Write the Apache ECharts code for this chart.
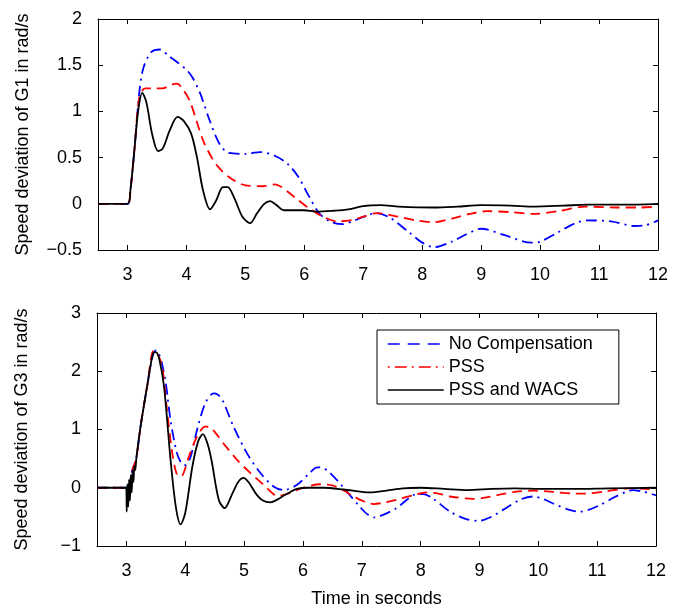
<!DOCTYPE html>
<html>
<head>
<meta charset="utf-8">
<script src="https://cdn.jsdelivr.net/npm/echarts@6/dist/echarts.min.js"></script>
<style>
  html, body { margin: 0; padding: 0; background: #fff; }
  #main { width: 682px; height: 609px; }
</style>
</head>
<body>
<div id="main"></div>
<script>
// time ticks shared by both plots
const timeTicks = [3, 4, 5, 6, 7, 8, 9, 10, 11, 12]
const seriesNames = ['No Compensation', 'PSS', 'PSS and WACS']

// G1 speed deviation, [time, rad/s]
const g1NoComp = [[2.5,0],[3.0,0],[3.05,0.15],[3.12,0.6],[3.2,1.2],[3.27,1.47],[3.4,1.64],[3.55,1.67],[3.7,1.6],[3.85,1.53],[4.0,1.45],[4.1,1.37],[4.23,1.2],[4.39,0.91],[4.56,0.65],[4.72,0.55],[5.0,0.54],[5.25,0.56],[5.5,0.52],[5.72,0.43],[5.9,0.29],[6.08,0.08],[6.25,-0.1],[6.43,-0.19],[6.65,-0.22],[6.85,-0.18],[7.05,-0.13],[7.22,-0.1],[7.45,-0.15],[7.78,-0.31],[8.0,-0.42],[8.2,-0.47],[8.5,-0.41],[8.75,-0.33],[9.0,-0.27],[9.4,-0.34],[9.85,-0.42],[10.0,-0.41],[10.3,-0.31],[10.6,-0.21],[10.8,-0.18],[11.2,-0.19],[11.6,-0.24],[11.8,-0.23],[12,-0.18]]
const g1Pss = [[2.5,0],[3.0,0],[3.05,0.15],[3.12,0.6],[3.2,1.15],[3.3,1.25],[3.45,1.25],[3.6,1.25],[3.75,1.29],[3.84,1.3],[3.94,1.24],[4.06,1.11],[4.17,0.9],[4.3,0.66],[4.5,0.43],[4.72,0.29],[5.0,0.2],[5.3,0.19],[5.5,0.21],[5.62,0.18],[5.72,0.13],[5.86,0.06],[6.08,-0.05],[6.32,-0.14],[6.55,-0.19],[6.78,-0.18],[7.0,-0.14],[7.22,-0.1],[7.6,-0.14],[7.9,-0.18],[8.2,-0.2],[8.5,-0.16],[8.8,-0.11],[9.1,-0.08],[9.5,-0.09],[9.9,-0.11],[10.3,-0.08],[10.77,-0.03],[11.3,-0.04],[11.7,-0.04],[12,-0.03]]
const g1Wacs = [[2.5,0],[3.0,0],[3.05,0.15],[3.12,0.6],[3.18,1.0],[3.25,1.2],[3.32,1.1],[3.42,0.75],[3.52,0.57],[3.6,0.6],[3.72,0.8],[3.85,0.94],[3.95,0.9],[4.08,0.76],[4.18,0.5],[4.28,0.15],[4.4,-0.06],[4.5,0.03],[4.62,0.18],[4.7,0.18],[4.82,0.05],[4.95,-0.14],[5.08,-0.21],[5.2,-0.1],[5.32,0.0],[5.42,0.03],[5.52,-0.01],[5.65,-0.07],[5.8,-0.07],[6.0,-0.07],[6.2,-0.085],[6.5,-0.075],[6.75,-0.06],[7.0,-0.025],[7.3,-0.015],[7.6,-0.03],[8.2,-0.04],[8.6,-0.03],[9.0,-0.015],[9.5,-0.02],[9.9,-0.03],[10.4,-0.02],[10.8,-0.01],[11.4,-0.01],[12,0]]

// G3 speed deviation, [time, rad/s]
const g3NoComp = [[2.5,0],[3.0,0],[3.1,0.3],[3.17,0.52],[3.24,1.05],[3.36,1.79],[3.45,2.28],[3.5,2.36],[3.55,2.3],[3.6,2.15],[3.67,1.79],[3.75,1.16],[3.86,0.59],[3.95,0.4],[4.0,0.39],[4.09,0.53],[4.2,0.99],[4.34,1.45],[4.48,1.62],[4.55,1.6],[4.63,1.51],[4.82,1.05],[5.05,0.59],[5.28,0.25],[5.5,0.02],[5.67,-0.04],[5.9,0.05],[6.12,0.26],[6.24,0.35],[6.3,0.35],[6.41,0.3],[6.58,0.13],[6.75,-0.07],[6.97,-0.33],[7.1,-0.46],[7.22,-0.51],[7.35,-0.47],[7.59,-0.35],[7.8,-0.18],[7.93,-0.11],[8.05,-0.11],[8.2,-0.18],[8.5,-0.41],[8.75,-0.53],[8.98,-0.57],[9.2,-0.5],[9.4,-0.38],[9.7,-0.2],[9.91,-0.15],[10.1,-0.2],[10.25,-0.27],[10.5,-0.37],[10.7,-0.41],[10.85,-0.38],[11.04,-0.3],[11.3,-0.16],[11.49,-0.07],[11.6,-0.04],[11.8,-0.07],[12,-0.13]]
const g3Pss = [[2.5,0],[3.0,0],[3.1,0.3],[3.17,0.52],[3.24,1.05],[3.36,1.79],[3.46,2.35],[3.53,2.3],[3.61,2.06],[3.69,1.33],[3.78,0.59],[3.86,0.22],[3.93,0.2],[4.06,0.53],[4.2,0.88],[4.34,1.05],[4.42,1.04],[4.5,0.96],[4.65,0.76],[4.88,0.48],[5.11,0.25],[5.33,0.05],[5.5,-0.11],[5.58,-0.14],[5.78,-0.09],[6.0,0.0],[6.29,0.06],[6.5,0.04],[6.7,-0.05],[6.86,-0.15],[7.05,-0.24],[7.2,-0.28],[7.4,-0.25],[7.65,-0.19],[7.9,-0.12],[8.1,-0.08],[8.3,-0.1],[8.5,-0.15],[8.89,-0.19],[9.1,-0.17],[9.34,-0.12],[9.6,-0.07],[9.91,-0.05],[10.25,-0.07],[10.6,-0.1],[10.8,-0.1],[11.15,-0.06],[11.55,-0.01],[11.8,-0.02],[12,-0.03]]
const g3Wacs = [[2.5,0],[2.99,0],[3.0,-0.05],[3.005,-0.41],[3.015,0.06],[3.03,-0.33],[3.045,0.14],[3.06,-0.22],[3.075,0.22],[3.09,-0.08],[3.105,0.3],[3.12,0.1],[3.135,0.38],[3.15,0.3],[3.17,0.52],[3.24,1.05],[3.36,1.79],[3.45,2.3],[3.5,2.33],[3.56,2.2],[3.64,1.73],[3.75,0.48],[3.84,-0.33],[3.92,-0.63],[4.0,-0.43],[4.12,0.36],[4.22,0.8],[4.3,0.92],[4.38,0.75],[4.45,0.45],[4.57,-0.21],[4.67,-0.35],[4.8,-0.1],[4.9,0.1],[4.99,0.17],[5.08,0.09],[5.2,-0.1],[5.32,-0.22],[5.45,-0.25],[5.57,-0.2],[5.7,-0.12],[5.9,-0.02],[6.1,0.0],[6.35,0.0],[6.69,-0.03],[7.0,-0.07],[7.14,-0.08],[7.42,-0.05],[7.7,-0.01],[8.0,0.0],[8.4,-0.02],[8.8,-0.04],[9.2,-0.02],[9.6,-0.01],[10.1,-0.02],[10.6,-0.02],[11.2,-0.01],[12,0]]

const font = "'Liberation Sans', Arial, sans-serif"
const minus = v => String(v).replace('-', '\u2212')

let chartDom = document.getElementById('main')
let myChart = echarts.init(chartDom)

function xAxes(gridIndex, top) {
    let base = {
        gridIndex: gridIndex,
        type: 'value',
        min: 2.5,
        max: 12,
        splitLine: { show: false },
        axisLine: { onZero: false, lineStyle: { color: '#000', width: 1 } },
        axisTick: { inside: true, length: 5, customValues: timeTicks, lineStyle: { color: '#000' } },
        axisLabel: { customValues: timeTicks, color: '#000', fontSize: 18, fontFamily: font, margin: 16 },
    }
    if (top) {
        return Object.assign({}, base, { position: 'top', axisLabel: { show: false } })
    }
    return Object.assign({}, base, { position: 'bottom' })
}

function yAxes(gridIndex, min, max, step, name, right) {
    let base = {
        gridIndex: gridIndex,
        type: 'value',
        min: min,
        max: max,
        interval: step,
        splitLine: { show: false },
        axisLine: { onZero: false, lineStyle: { color: '#000', width: 1 } },
        axisTick: { inside: true, length: 5, lineStyle: { color: '#000' } },
    }
    if (right) {
        return Object.assign({}, base, { position: 'right', axisLabel: { show: false } })
    }
    return Object.assign({}, base, {
        position: 'left',
        name: name,
        nameLocation: 'middle',
        nameGap: 66,
        nameTextStyle: { color: '#000', fontSize: 18, fontFamily: font },
        axisLabel: { color: '#000', fontSize: 18, fontFamily: font, margin: 16, formatter: minus },
    })
}

function lines(data, xi, yi) {
    const colors = ['#0000ff', '#ff0000', '#000000']
    const dashes = [[11, 5, 2, 5], [10, 6], 'solid']
    return data.map(function (d, i) {
        return {
            name: seriesNames[i],
            type: 'line',
            xAxisIndex: xi,
            yAxisIndex: yi,
            data: d,
            symbol: 'none',
            smooth: 0.3,
            z: 3 + i,
            lineStyle: { color: colors[i], width: 1.8, type: dashes[i] },
            itemStyle: { color: colors[i] },
        }
    })
}

let option = {
    backgroundColor: '#fff',
    animation: false,
    grid: [
        { left: 98, top: 19, width: 560, height: 231 },
        { left: 97, top: 313, width: 559, height: 233 },
    ],
    xAxis: [
        xAxes(0, false), xAxes(0, true),
        Object.assign(xAxes(1, false), {
            name: 'Time in seconds',
            nameLocation: 'middle',
            nameGap: 44,
            nameTextStyle: { color: '#000', fontSize: 18, fontFamily: font },
        }),
        xAxes(1, true),
    ],
    yAxis: [
        yAxes(0, -0.5, 2, 0.5, 'Speed deviation of G1 in rad/s', false),
        yAxes(0, -0.5, 2, 0.5, '', true),
        yAxes(1, -1, 3, 1, 'Speed deviation of G3 in rad/s', false),
        yAxes(1, -1, 3, 1, '', true),
    ],
    legend: {
        orient: 'vertical',
        left: 377,
        top: 330,
        padding: [5, 26, 5, 10],
        itemWidth: 56,
        itemHeight: 14,
        itemGap: 5,
        backgroundColor: '#fff',
        borderColor: '#000',
        borderWidth: 1,
        borderRadius: 0,
        selectedMode: false,
        itemStyle: { color: 'rgba(0,0,0,0)', borderWidth: 0, opacity: 0 },
        textStyle: { color: '#000', fontSize: 18, fontFamily: font },
        data: [
            { name: 'No Compensation', lineStyle: { color: '#0000ff', type: [12, 8], width: 1.5 } },
            { name: 'PSS', lineStyle: { color: '#ff0000', type: [2, 5, 12, 5], width: 1.5 } },
            { name: 'PSS and WACS', lineStyle: { color: '#000', type: 'solid', width: 1.5 } },
        ],
    },
    series: [].concat(
        lines([g1NoComp, g1Pss, g1Wacs], 0, 0),
        lines([g3NoComp, g3Pss, g3Wacs], 2, 2)
    ),
}

option && myChart.setOption(option)
</script>
</body>
</html>
